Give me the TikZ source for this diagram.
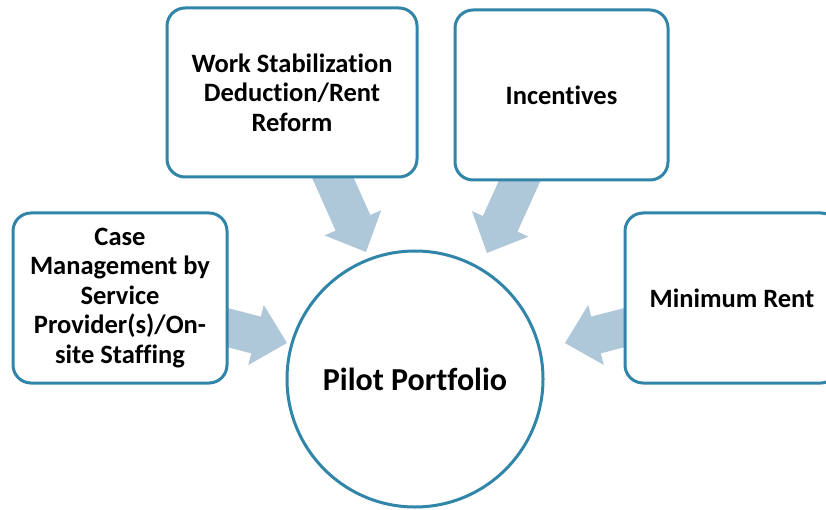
\documentclass[tikz,border=0pt]{standalone}
\usepackage{fontspec}
\setmainfont{Carlito}[Ligatures={NoCommon,NoContextual}]
\usetikzlibrary{calc}
\definecolor{edgeblue}{RGB}{49,133,168}
\definecolor{arrowfill}{RGB}{174,199,217}
\tikzset{
  box/.style={draw=edgeblue, line width=3pt, rounded corners=18pt, fill=white,
    align=center, inner sep=0pt,
    font=\fontsize{26.5}{29.5}\selectfont\bfseries},
  hub/.style={circle, draw=edgeblue, line width=3pt, fill=white, inner sep=0pt,
    minimum size=256pt, font=\fontsize{32}{36}\selectfont\bfseries},
  blockfill/.style={fill=arrowfill}
}
\newcommand\blockarr[2]{%
  \coordinate (H) at ($(#2)!32pt!(#1)$);
  \fill[blockfill] ($(#1)!19pt!90:(#2)$) -- ($(H)!19pt!-90:(#1)$) -- ($(H)!31pt!-90:(#1)$)
    -- (#2) -- ($(H)!31pt!90:(#1)$) -- ($(H)!19pt!90:(#1)$) -- ($(#1)!19pt!-90:(#2)$) -- cycle;
}
\begin{document}
\begin{tikzpicture}[x=1pt, y=-1pt]
\useasboundingbox (0,0) rectangle (826,510);
% positions of boxes (for anchors, drawn later on top)
\path (120,298) coordinate (pcm) (292,92.5) coordinate (pwsd)
      (561.5,95) coordinate (pinc) (732,298) coordinate (pmr);
% arrows
\coordinate (s1) at ($(pcm)+(80,22.5)$);
\coordinate (t1) at (287,343);
\coordinate (s2) at ($(pwsd)+(30.3,61.7)$);
\coordinate (t2) at (366,252);
\coordinate (s3) at ($(pinc)+(-31.2,62.2)$);
\coordinate (t3) at (487,253);
\coordinate (s4) at ($(pmr)+(-80.9,22.7)$);
\coordinate (t4) at (565,343);
\blockarr{s1}{t1}
\blockarr{s2}{t2}
\blockarr{s3}{t3}
\blockarr{s4}{t4}
% boxes
\node[box, minimum width=214pt, minimum height=170pt] (cm) at (pcm)
  {Case\\Management by\\Service\\Provider(s)/On-\\site Staffing};
\node[box, minimum width=250pt, minimum height=169pt] (wsd) at (pwsd)
  {Work Stabilization\\Deduction/Rent\\Reform};
\node[box, minimum width=213pt, minimum height=170pt] (inc) at (pinc)
  {Incentives};
\node[box, minimum width=214pt, minimum height=170pt] (mr) at (pmr)
  {Minimum Rent};
\node[hub] (pp) at (415,379) {Pilot Portfolio};
\end{tikzpicture}
\end{document}
